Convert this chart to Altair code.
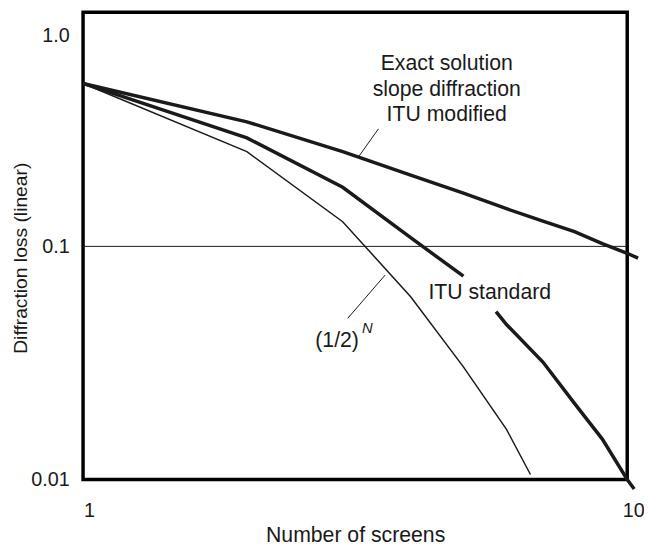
import altair as alt
import pandas as pd

# ---- data ----
exact_n = [1, 2, 3, 4, 5, 6, 7, 8, 9, 10, 10.47]
exact_loss = [0.595, 0.391, 0.282, 0.218, 0.179, 0.151, 0.132, 0.1175, 0.103, 0.0934, 0.089]

itu_a_n = [1, 2, 3, 4, 5]
itu_a_loss = [0.595, 0.328, 0.191, 0.110, 0.0745]
itu_b_n = [5.74, 6, 7, 8, 9, 10, 10.3]
itu_b_loss = [0.0525, 0.0462, 0.0319, 0.0212, 0.0149, 0.01, 0.0091]

half_n = [1, 2, 3, 4, 5, 6, 6.64]
half_loss = [0.595, 0.282, 0.131, 0.0608, 0.0304, 0.0164, 0.0105]

ref_level = [0.1]
x_ticks = [1, 10]
y_ticks = [0.01, 0.1, 1.0]

# annotation texts (data coordinates)
label_text = ["Exact solution", "slope diffraction", "ITU modified", "ITU standard", "(1/2)"]
label_n = [4.66, 4.66, 4.66, 5.59, 2.93]
label_loss = [0.739, 0.552, 0.421, 0.0633, 0.0392]
sup_text = ["N"]
sup_n = [3.33]
sup_loss = [0.0445]

pointer_n = [3.21, 3.59]
pointer_loss = [0.267, 0.0753]
pointer_n2 = [3.49, 3.064]
pointer_loss2 = [0.362, 0.0491]

# ---- tables ----
rows = []
for n, v in zip(exact_n, exact_loss):
    rows.append({"N": n, "loss": v, "seg": "exact", "w": 3.5})
for n, v in zip(itu_a_n, itu_a_loss):
    rows.append({"N": n, "loss": v, "seg": "itu_a", "w": 3.5})
for n, v in zip(itu_b_n, itu_b_loss):
    rows.append({"N": n, "loss": v, "seg": "itu_b", "w": 3.5})
for n, v in zip(half_n, half_loss):
    rows.append({"N": n, "loss": v, "seg": "half", "w": 1.5})
lines_df = pd.DataFrame(rows)

ref_df = pd.DataFrame({"N": [x_ticks[0]], "N2": [x_ticks[-1]], "loss": ref_level})
labels_df = pd.DataFrame({"N": label_n, "loss": label_loss, "t": label_text})
sup_df = pd.DataFrame({"N": sup_n, "loss": sup_loss, "t": sup_text})
ptr_df = pd.DataFrame({"N": pointer_n, "loss": pointer_loss, "N2": pointer_n2, "loss2": pointer_loss2})

W, H = 551, 473
INK = "#1a1a1a"

xscale = alt.Scale(type="log", domain=[1, 10], nice=False)
yscale = alt.Scale(type="log", domain=[0.01, 0.1, 1.0], range=[H, 237, 24], nice=False)

xaxis = alt.Axis(values=x_ticks, format="~g", title="Number of screens", grid=False,
                 ticks=False, domain=False, labelFlush=False, labelOffset=6,
                 labelPadding=22, labelFontSize=20, titleFontSize=21.5,
                 titleFontWeight="normal", titlePadding=4, labelColor=INK, titleColor=INK)
yaxis = alt.Axis(values=y_ticks,
                 labelExpr="datum.value >= 1 ? '1.0' : (datum.value >= 0.1 ? '0.1' : '0.01')",
                 title="Diffraction loss (linear)", grid=False, ticks=False, domain=False,
                 labelFlush=False, labelPadding=14, labelFontSize=20, titleFontSize=19.5,
                 titleFontWeight="normal", titlePadding=0, labelColor=INK, titleColor=INK)

base_x = alt.X("N:Q", scale=xscale, axis=xaxis)
base_y = alt.Y("loss:Q", scale=yscale, axis=yaxis)

lines = alt.Chart(lines_df).mark_line(color=INK).encode(
    x=base_x, y=base_y, detail="seg:N",
    strokeWidth=alt.StrokeWidth("w:Q", scale=None, legend=None),
)

ref = alt.Chart(ref_df).mark_rule(color=INK, strokeWidth=1).encode(
    x=alt.X("N:Q", scale=xscale), x2="N2:Q", y=alt.Y("loss:Q", scale=yscale)
)

ptr = alt.Chart(ptr_df).mark_rule(color=INK, strokeWidth=1).encode(
    x=alt.X("N:Q", scale=xscale), x2="N2:Q",
    y=alt.Y("loss:Q", scale=yscale), y2="loss2:Q",
)

labels = alt.Chart(labels_df).mark_text(fontSize=21.5, color=INK, align="center",
                                        baseline="middle").encode(
    x=alt.X("N:Q", scale=xscale), y=alt.Y("loss:Q", scale=yscale), text="t:N"
)

sup = alt.Chart(sup_df).mark_text(fontSize=15, fontStyle="italic", color=INK,
                                  align="center", baseline="middle").encode(
    x=alt.X("N:Q", scale=xscale), y=alt.Y("loss:Q", scale=yscale), text="t:N"
)

chart = alt.layer(ref, lines, ptr, labels, sup).properties(
    width=W, height=H,
    autosize=alt.AutoSizeParams(type="none"),
    padding={"left": 76, "top": 1, "right": 17, "bottom": 63},
).configure(
    font="Liberation Sans",
    view=alt.ViewConfig(stroke="black", strokeWidth=3.5),
)

chart.save("out.html", embed_options={"renderer": "svg", "actions": False})
